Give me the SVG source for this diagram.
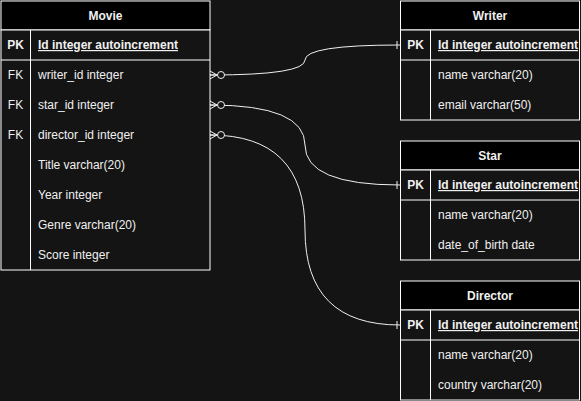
<svg xmlns="http://www.w3.org/2000/svg" width="581" height="401" viewBox="0 0 581 401">
<defs>
<style>
.bg{fill:#141414}
.hdr{fill:#000;stroke:#fff;stroke-width:1}
.body{fill:#141414;stroke:#fff;stroke-width:1}
.ln{stroke:#fff;stroke-width:1;fill:none}
.t{font-family:"Liberation Sans",Arial,sans-serif;font-size:12px;fill:#f0f0f0}
.h{font-weight:bold;text-anchor:middle}
.k{text-anchor:middle}
.pk{font-weight:bold;text-decoration:underline}
.b{font-weight:bold}
.edge{stroke:#f0f0f0;stroke-width:1;fill:none}
</style>
<marker id="many0" markerUnits="userSpaceOnUse" markerWidth="20" markerHeight="14" refX="0" refY="7" orient="auto" viewBox="0 0 20 14">
<path d="M0 3 L7 7 L0 11 M0 7 L7 7" stroke="#f0f0f0" fill="none"/>
<circle cx="11" cy="7" r="3.5" fill="#141414" stroke="#f0f0f0"/>
</marker>
<marker id="one" markerUnits="userSpaceOnUse" markerWidth="10" markerHeight="14" refX="10" refY="7" orient="auto" viewBox="0 0 10 14">
<path d="M7 3 L7 11" stroke="#f0f0f0" fill="none"/>
</marker>
</defs>
<rect class="bg" x="0" y="0" width="581" height="401"/>

<g id="connectors">
<path class="edge" d="M210 75 Q305 75 305 60 Q305 45 400 45" marker-start="url(#many0)" marker-end="url(#one)"/>
<path class="edge" d="M210 105 Q305 105 305 145 Q305 185 400 185" marker-start="url(#many0)" marker-end="url(#one)"/>
<path class="edge" d="M210 135 Q305 135 305 230 Q305 325 400 325" marker-start="url(#many0)" marker-end="url(#one)"/>
</g>

<g id="movie">
<rect class="hdr" x="1" y="1" width="209" height="29"/>
<text class="t h" x="105.5" y="19.5">Movie</text>
<rect class="body" x="1" y="30" width="209" height="240"/>
<line class="ln" x1="1" y1="60" x2="210" y2="60"/>
<line class="ln" x1="30.5" y1="30" x2="30.5" y2="270"/>
<text class="t k b" x="15.5" y="49">PK</text>
<text class="t pk" x="38" y="49">Id integer autoincrement</text>
<text class="t k" x="15.5" y="79">FK</text>
<text class="t" x="38" y="79">writer_id integer</text>
<text class="t k" x="15.5" y="109">FK</text>
<text class="t" x="38" y="109">star_id integer</text>
<text class="t k" x="15.5" y="139">FK</text>
<text class="t" x="38" y="139">director_id integer</text>
<text class="t" x="38" y="169">Title varchar(20)</text>
<text class="t" x="38" y="199">Year integer</text>
<text class="t" x="38" y="229">Genre varchar(20)</text>
<text class="t" x="38" y="259">Score integer</text>
</g>

<g id="writer">
<rect class="hdr" x="400.5" y="1" width="179" height="29"/>
<text class="t h" x="490" y="19.5">Writer</text>
<rect class="body" x="400.5" y="30" width="179" height="90"/>
<line class="ln" x1="400.5" y1="60" x2="579.5" y2="60"/>
<line class="ln" x1="430.5" y1="30" x2="430.5" y2="120"/>
<text class="t k b" x="415.5" y="49">PK</text>
<text class="t pk" x="438" y="49">Id integer autoincrement</text>
<text class="t" x="438" y="79">name varchar(20)</text>
<text class="t" x="438" y="109">email varchar(50)</text>
</g>

<g id="star">
<rect class="hdr" x="400.5" y="141" width="179" height="29"/>
<text class="t h" x="490" y="159.5">Star</text>
<rect class="body" x="400.5" y="170" width="179" height="90"/>
<line class="ln" x1="400.5" y1="200" x2="579.5" y2="200"/>
<line class="ln" x1="430.5" y1="170" x2="430.5" y2="260"/>
<text class="t k b" x="415.5" y="189">PK</text>
<text class="t pk" x="438" y="189">Id integer autoincrement</text>
<text class="t" x="438" y="219">name varchar(20)</text>
<text class="t" x="438" y="249">date_of_birth date</text>
</g>

<g id="director">
<rect class="hdr" x="400.5" y="281" width="179" height="29"/>
<text class="t h" x="490" y="299.5">Director</text>
<rect class="body" x="400.5" y="310" width="179" height="90"/>
<line class="ln" x1="400.5" y1="340" x2="579.5" y2="340"/>
<line class="ln" x1="430.5" y1="310" x2="430.5" y2="400"/>
<text class="t k b" x="415.5" y="329">PK</text>
<text class="t pk" x="438" y="329">Id integer autoincrement</text>
<text class="t" x="438" y="359">name varchar(20)</text>
<text class="t" x="438" y="389">country varchar(20)</text>
</g>
</svg>
